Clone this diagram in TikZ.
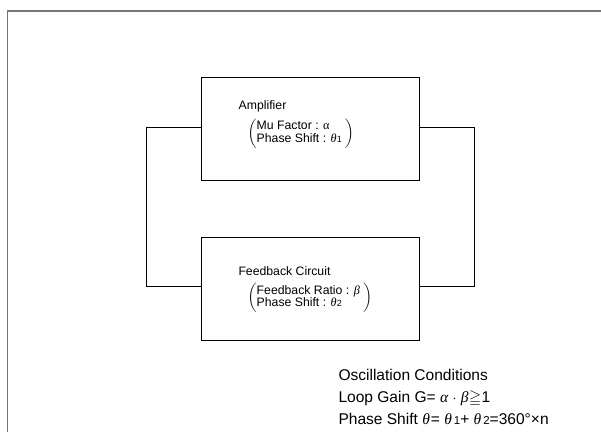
\documentclass[tikz,border=0pt]{standalone}
\usepackage{amssymb}
\usepackage{fontspec}
\setmainfont{Liberation Sans}
\newfontfamily\grk{Liberation Serif}
\definecolor{framegray}{RGB}{118,118,118}
\newcommand{\gi}[1]{{\grk\itshape #1}}
\newcommand{\gu}[1]{{\grk #1}}
\newcommand{\smalldigit}[1]{{\fontsize{9}{9}\selectfont #1}}
\newcommand{\conddigit}[1]{{\fontsize{11.5}{11.5}\selectfont #1}}
\newcommand{\parenpair}[2]{\smash{$\left(\vcenter to 27bp{\vss\hbox{\begin{tabular}{@{}l@{}}#1\\#2\end{tabular}\kern3bp}\vss}\right)$}}
\begin{document}
\begin{tikzpicture}[x=1bp,y=-1bp,
  blk/.style={draw=black,line width=1bp,minimum width=217.3bp,minimum height=103.3bp,inner sep=0pt},
  wire/.style={draw=black,line width=1bp},
  lbl/.style={anchor=base west,inner sep=0pt,font=\fontsize{12.3}{11.7}\selectfont},
  paren/.style={anchor=west,inner sep=0pt,text height=13bp,text depth=13bp,font=\fontsize{12.3}{11.7}\selectfont},
  cond/.style={anchor=base west,inner sep=0pt,font=\fontsize{15.6}{18}\selectfont}]
\useasboundingbox (0,0) rectangle (601,432);
\draw[line width=1.5bp,draw=framegray] (7.5,432) -- (7.5,11) -- (601,11);
\node[blk] (amp) at (310.35,128.65) {};
\node[blk] (fb) at (310.35,288.65) {};
\draw[wire] ([yshift=1.65bp]amp.west) -- ++(-55,0) |- ([yshift=2.35bp]fb.west);
\draw[wire] ([yshift=1.65bp]amp.east) -- ++(54.7,0) |- ([yshift=2.35bp]fb.east);
\node[lbl] (ampt) at (238.5,109.5) {Amplifier};
\node[paren] (ampp) at (247.5,136.5) {\parenpair{Mu Factor : \gu{α}}{Phase Shift : \gi{θ}\smalldigit{1}}};
\node[lbl] (fbt) at (238.3,275.7) {Feedback Circuit};
\node[paren] (fbp) at (247.5,301) {\parenpair{Feedback Ratio : \gi{β}}{Phase Shift : \gi{θ}\smalldigit{2}}};
\node[cond] (c1) at (338.3,380) {Oscillation Conditions};
\node[cond] (c2) at (338.3,402.5) {Loop Gain G= \gi{α} $\cdot$ \gi{β}\kern0.5bp$\geqq$\kern0.5bp1};
\node[cond] (c3) at (338.3,424) {Phase Shift \gi{θ}\kern1bp= \gi{θ}\kern2bp\conddigit{1}+ \gi{θ}\kern2bp\conddigit{2}=360°×n};
\end{tikzpicture}
\end{document}
